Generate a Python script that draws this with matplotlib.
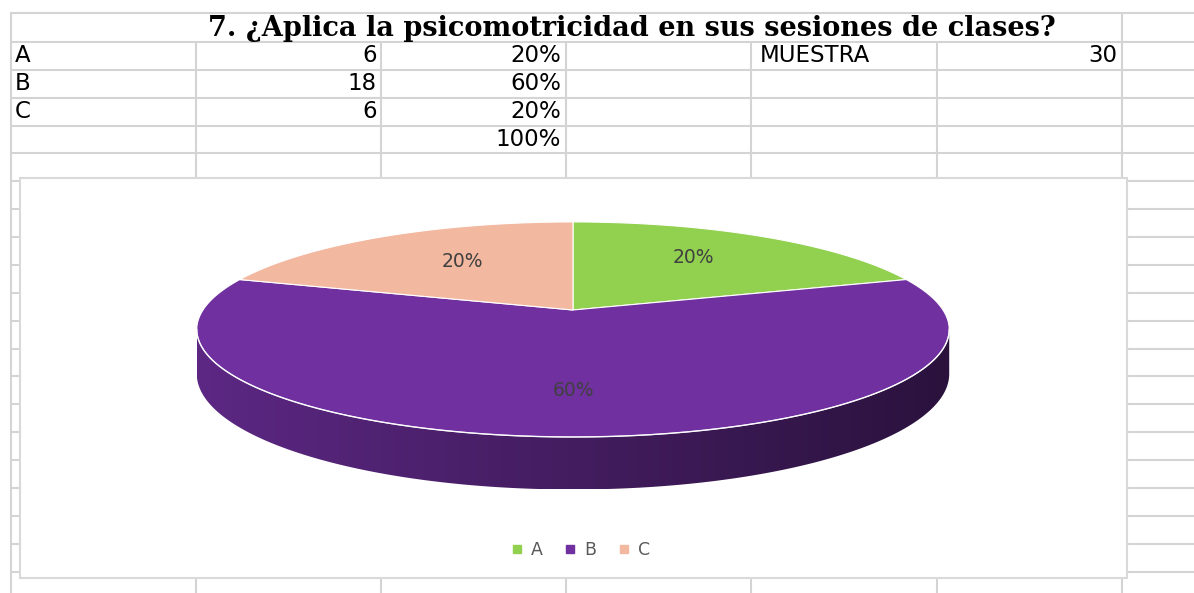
import numpy as np
import matplotlib.pyplot as plt
from matplotlib.patches import Polygon, Rectangle
from matplotlib.lines import Line2D
from matplotlib.colors import LinearSegmentedColormap, to_rgb

# data
title = '7. ¿Aplica la psicomotricidad en sus sesiones de clases?'
categories = ['A', 'B', 'C']
counts = [6, 18, 6]
muestra = 30
colors = ['#92D050', '#7030A0', '#F2B8A0']

W, H = 1194, 593

# sheet layout (pixels)
col_x = [11, 196, 381, 566, 751, 937, 1122]
row_y = [42 + 27.87 * i for i in range(20)]
grid_c = '#D4D4D4'

fig = plt.figure(figsize=(W / 100, H / 100), dpi=100)
ax = fig.add_axes([0, 0, 1, 1])
ax.set_xlim(0, W)
ax.set_ylim(H, 0)
ax.axis('off')

# grid
ax.hlines(13, 10, W, color=grid_c, lw=1.5, zorder=1)
ax.hlines(row_y, 11, W, color=grid_c, lw=1.5, zorder=1)
ax.vlines([col_x[0], col_x[-1]], 13, H, color=grid_c, lw=1.5, zorder=1)
ax.vlines(col_x[1:-1], 42, H, color=grid_c, lw=1.5, zorder=1)

# table
ax.text(632, 28.5, title, ha='center', va='center', family='DejaVu Serif',
        weight='bold', fontsize=19.5, color='black')
tfont = dict(family='DejaVu Sans', fontsize=16.5, color='black', va='center')
pcts = [round(c / muestra * 100) for c in counts]
for i, cat in enumerate(categories):
    yc = (row_y[i] + row_y[i + 1]) / 2
    ax.text(15, yc, cat, ha='left', **tfont)
    ax.text(377, yc, str(counts[i]), ha='right', **tfont)
    ax.text(561, yc, f'{pcts[i]}%', ha='right', **tfont)
yc = (row_y[3] + row_y[4]) / 2
ax.text(561, yc, f'{sum(pcts)}%', ha='right', **tfont)
yc = (row_y[0] + row_y[1]) / 2
ax.text(760, yc, 'MUESTRA', ha='left', **tfont)
ax.text(1117, yc, str(muestra), ha='right', **tfont)

# chart area
ax.add_patch(Rectangle((20, 178), 1107, 400, facecolor='white',
                       edgecolor='#D9D9D9', lw=1.5, zorder=2))

# 3d pie (perspective disk)
cx, cy = 573, 310
rx, ry = 370, 104
k = 0.181
depth = 43


def proj(theta, r=1.0):
    t = np.radians(theta)
    X, Y = r * np.sin(t), r * np.cos(t)
    w = 1 + k * Y
    return cx + rx * X / w, cy - ry * Y / w, w


fracs = np.array(counts) / sum(counts)
ends = np.cumsum(fracs) * 360
starts = ends - fracs * 360

t1 = np.degrees(np.arccos(-k))
t2 = 360 - t1

# side walls
for s, e, c in zip(starts, ends, colors):
    a, b = max(s, t1), min(e, t2)
    if a >= b:
        continue
    th = np.linspace(a, b, 200)
    x, y, w = proj(th)
    yb = y + depth / w
    pts = np.column_stack([np.r_[x, x[::-1]], np.r_[y, yb[::-1]]])
    poly = Polygon(pts, closed=True, facecolor='none', edgecolor='none', zorder=3)
    ax.add_patch(poly)
    base = np.array(to_rgb(c))
    cmap = LinearSegmentedColormap.from_list('side', [base * 0.82, base * 0.6, base * 0.38])
    grad = np.linspace(0, 1, 256).reshape(1, -1)
    im = ax.imshow(grad, cmap=cmap, aspect='auto', zorder=3,
                   extent=(x.min(), x.max(), yb.max(), y.min()))
    im.set_clip_path(poly)

# top face
for s, e, c in zip(starts, ends, colors):
    th = np.linspace(s, e, 200)
    x, y, w = proj(th)
    pts = np.column_stack([np.r_[cx, x], np.r_[cy, y]])
    ax.add_patch(Polygon(pts, closed=True, facecolor=c, edgecolor='white',
                         lw=0.8, zorder=4))

# front rim highlight
th = np.linspace(t1, t2, 200)
x, y, w = proj(th)
ax.plot(x, y, color='white', lw=1.0, alpha=0.85, zorder=5)

# labels
lab_r = [0.6, 0.72, 0.55]
for s, e, p, r in zip(starts, ends, pcts, lab_r):
    lx, ly, _ = proj((s + e) / 2, r)
    ax.text(lx, ly - 6, f'{p}%', ha='center', va='center', family='DejaVu Sans',
            fontsize=13.5, color='#404040', zorder=6)

# legend
handles = [Line2D([], [], marker='s', linestyle='none', color=c, markersize=6)
           for c in colors]
leg = ax.legend(handles, categories, loc='center', bbox_to_anchor=(580 / W, 1 - 550 / H),
                ncol=3, frameon=False, fontsize=12.5, labelcolor='#595959',
                handletextpad=0.4, columnspacing=1.2, handlelength=0.8)
leg.set_zorder(6)

fig.savefig('out.png', dpi=100)
